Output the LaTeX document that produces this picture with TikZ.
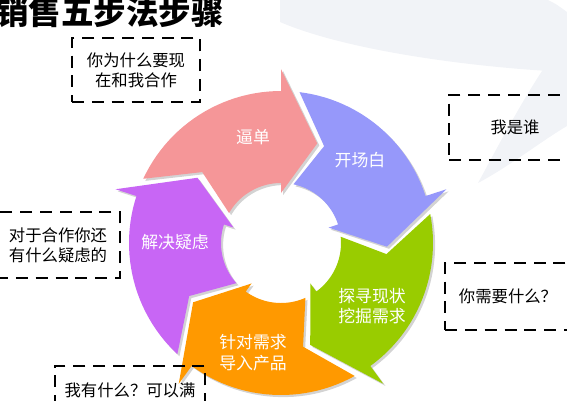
\documentclass[tikz,border=0pt]{standalone}
\usepackage{fontspec}
\newfontfamily\cjk{Noto Sans CJK SC}
\usepackage{tikz}
\usetikzlibrary{shadows}

\definecolor{pinkseg}{RGB}{245,150,152}
\definecolor{blueseg}{RGB}{150,152,250}
\definecolor{greenseg}{RGB}{153,204,0}
\definecolor{orangeseg}{RGB}{255,153,0}
\definecolor{purpleseg}{RGB}{200,102,245}
\definecolor{swoosh}{RGB}{241,243,247}

\newcommand{\cyclearrow}[2]{%
  \pgfmathsetmacro{\segtailo}{#1-65}
  \pgfmathsetmacro{\segtaili}{#1-60}
  \pgfmathsetmacro{\segnotch}{#1-48}
  \pgfmathsetmacro{\segtip}{#1+20}
  \fill[#2,segshadow] (\segtailo:152) -- plot[domain=\segtailo:#1,samples=27] (\x:152)
    -- (#1:174) -- (\segtip:106) -- (#1:50) -- (#1:60)
    -- plot[domain=#1:\segtaili,samples=25] (\x:60) -- (\segnotch:106) -- cycle;}

\begin{document}
\begin{tikzpicture}[x=0.02cm,y=-0.02cm,
  segshadow/.style={drop shadow={shadow xshift=1.2pt,shadow yshift=-1.2pt,opacity=0.35}},
  seglabel/.style={text=white,align=center,font=\cjk\fontsize{9.6}{11.8}\selectfont},
  askbox/.style={draw=black,dashed,dash pattern=on 6.8pt off 4.5pt,line width=1.4pt,
    align=center,inner sep=0pt,font=\cjk\fontsize{9.3}{11.5}\selectfont}]
\useasboundingbox (0,0) rectangle (567,400);

\fill[swoosh] (280,0) -- (548,0) .. controls (556,4) .. (567,12) -- (567,72)
  .. controls (480,68) and (350,52) .. (280,22) -- cycle;
\fill[swoosh] (548,62) .. controls (522,100) and (496,150) .. (478,183)
  .. controls (510,166) and (540,142) .. (567,126) -- (567,62) -- cycle;

\node[anchor=east,inner sep=0pt,font=\cjk\bfseries\fontsize{18.5}{20}\selectfont] (title) at (224,12) {销售五步法步骤};

\begin{scope}[shift={(281,243)}]
\cyclearrow{270}{pinkseg}
\cyclearrow{342}{blueseg}
\cyclearrow{54}{greenseg}
\cyclearrow{126}{orangeseg}
\cyclearrow{198}{purpleseg}
\end{scope}

\node[seglabel] (bidan) at (253,137) {逼单};
\node[seglabel] (kaichang) at (360,160) {开场白};
\node[seglabel] (tanxun) at (372,306) {探寻现状\\挖掘需求};
\node[seglabel] (daoru) at (253,353) {针对需求\\导入产品};
\node[seglabel] (jiejue) at (175,242) {解决疑虑};

\node[askbox,minimum width=2.56cm,minimum height=1.28cm] (why) at (136,70) {你为什么要现\\在和我合作};
\node[askbox,minimum width=2.64cm,minimum height=1.3cm] (who) at (515,127.5) {我是谁};
\node[askbox,minimum width=2.52cm,minimum height=1.34cm] (need) at (508,296.5) {你需要什么？};
\node[askbox,minimum width=2.48cm,minimum height=1.32cm] (doubt) at (58,245) {对于合作你还\\有什么疑虑的};
\node[askbox,minimum width=3cm,minimum height=0.96cm] (have) at (130,390) {我有什么？可以满};
\end{tikzpicture}
\end{document}
